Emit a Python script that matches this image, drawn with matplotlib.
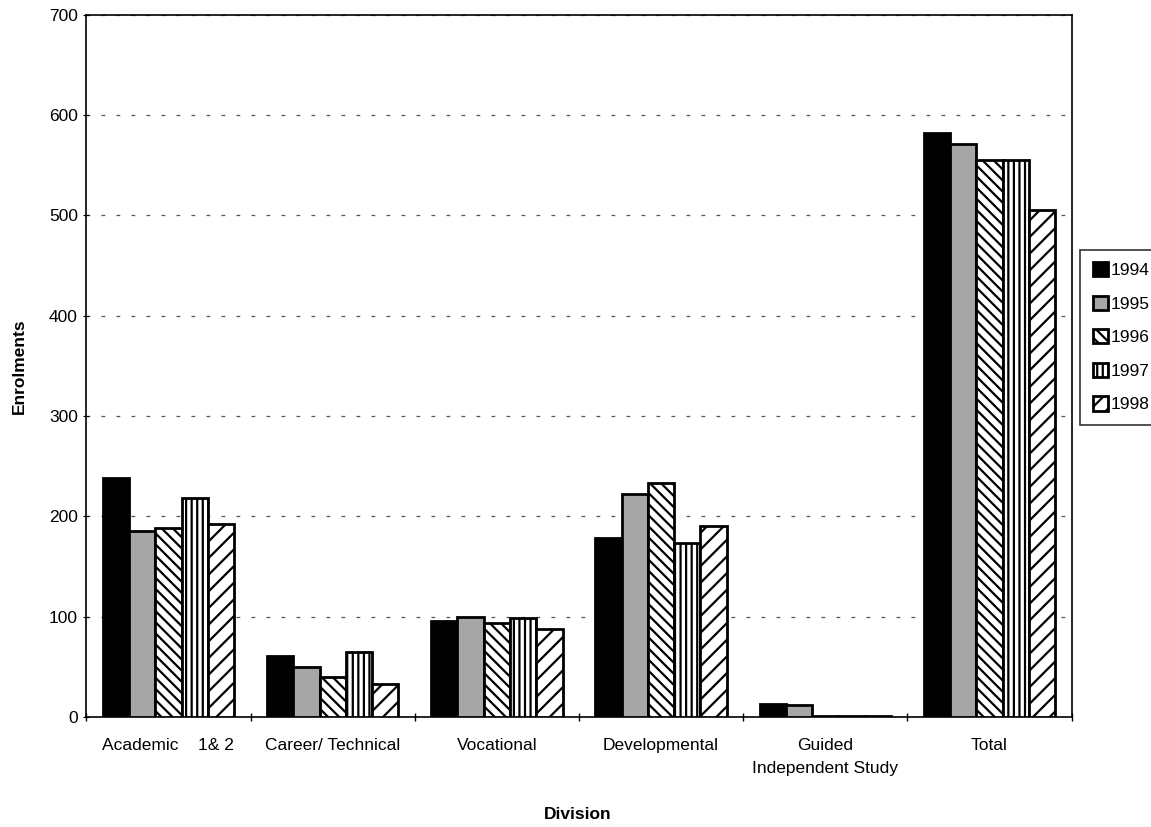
import matplotlib.pyplot as plt
import numpy as np

plt.rcParams['font.family'] = ['Liberation Sans', 'DejaVu Sans']
plt.rcParams['hatch.linewidth'] = 1.6

# Enrolments by division and year
divisions = ['Academic    1& 2', 'Career/ Technical', 'Vocational', 'Developmental',
             'Guided\nIndependent Study', 'Total']
years = ['1994', '1995', '1996', '1997', '1998']
y1994 = [238, 61, 96, 178, 13, 582]
y1995 = [185, 50, 100, 222, 12, 571]
y1996 = [188, 40, 94, 233, 1, 555]
y1997 = [218, 65, 99, 173, 1, 555]
y1998 = [192, 33, 88, 190, 1, 505]
series = [y1994, y1995, y1996, y1997, y1998]

# style per year (fill, hatch)
styles = [('black', None), ('#a6a6a6', None), ('white', '\\\\\\'),
          ('white', '|||'), ('white', '//')]

fig = plt.figure(figsize=(11.51, 8.27), dpi=100)
ax = fig.add_axes([0.075, 0.133, 0.856, 0.849])

x = np.arange(len(divisions))
w = 0.16
for i, vals in enumerate(series):
    fc, h = styles[i]
    ax.bar(x + (i - 2) * w, vals, w, facecolor=fc, hatch=h, edgecolor='black',
           linewidth=2, label=years[i], zorder=3)

ax.set_xlim(-0.5, len(divisions) - 0.5)
ax.set_ylim(0, 700)
ax.set_yticks(range(0, 701, 100))
ax.set_xticks(x)
ax.set_xticklabels(divisions, fontsize=12.5, linespacing=1.7)
ax.set_xticks(np.arange(-0.5, len(divisions)), minor=True)
ax.tick_params(axis='x', which='major', length=0, pad=15)
ax.tick_params(axis='x', which='minor', length=6, direction='inout', width=1)
ax.tick_params(axis='y', labelsize=12.5, length=5, direction='inout')
ax.yaxis.grid(True, color='#555555', linestyle=(0, (3, 9)), linewidth=0.9, zorder=0)
for s in ax.spines.values():
    s.set_linewidth(1.2)

ax.set_ylabel('Enrolments', fontsize=12.5, fontweight='bold', labelpad=16)
fig.text(0.502, 0.015, 'Division', fontsize=12.5, fontweight='bold', ha='center', va='center')

leg = ax.legend(loc='center left', bbox_to_anchor=(1.009, 0.541), fontsize=12.5,
                frameon=True, fancybox=False, handlelength=0.9, handleheight=0.9,
                handletextpad=0.15, labelspacing=1.0, borderpad=0.7, borderaxespad=0)
leg.get_frame().set_edgecolor('black')
leg.get_frame().set_linewidth(1.2)

fig.savefig('out.png', dpi=100)
